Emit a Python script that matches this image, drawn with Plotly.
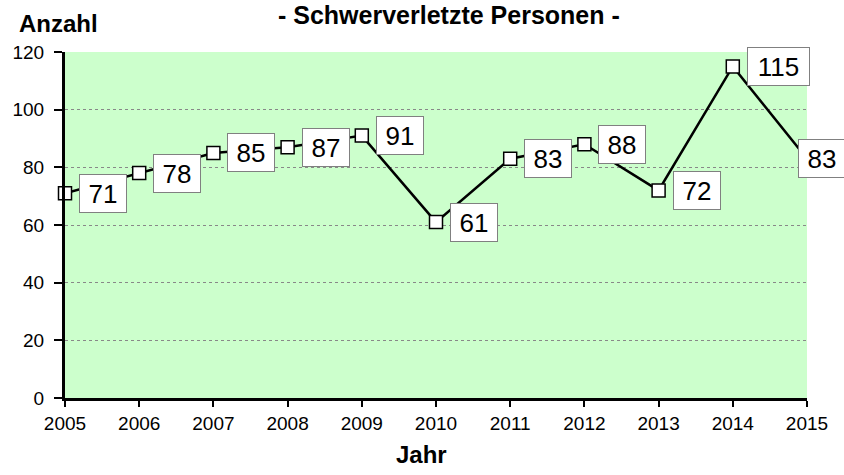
import plotly.graph_objects as go

# Schwerverletzte Personen pro Jahr
jahre = [2005, 2006, 2007, 2008, 2009, 2010, 2011, 2012, 2013, 2014, 2015]
anzahl = [71, 78, 85, 87, 91, 61, 83, 88, 72, 115, 83]
y_ticks = [0, 20, 40, 60, 80, 100, 120]

FONT = "Arial, Liberation Sans, sans-serif"

fig = go.Figure()
fig.add_trace(go.Scatter(
    x=jahre, y=anzahl, mode="lines+markers",
    line=dict(color="black", width=2.5),
    marker=dict(symbol="square", size=13, color="white",
                line=dict(color="black", width=1.5)),
    cliponaxis=False, showlegend=False, hoverinfo="x+y",
))

# value labels in white boxes to the right of each point
for i, (j, v) in enumerate(zip(jahre, anzahl)):
    txt = str(v)
    last = i == len(jahre) - 1
    fig.add_annotation(
        x=j, y=v, xref="x", yref="y", text=txt, showarrow=False,
        xanchor="left", yanchor="middle",
        xshift=-9 if last else 14,
        width=len(txt) * 15 + 16, height=37,
        font=dict(family=FONT, size=26, color="black"),
        bgcolor="white", bordercolor="#808080", borderwidth=1, borderpad=0,
    )

fig.add_annotation(x=0.518, y=1.152, xref="paper", yref="paper",
                   text="<b>- Schwerverletzte Personen -</b>", showarrow=False,
                   xanchor="center", yanchor="top",
                   font=dict(family=FONT, size=25, color="black"))
fig.add_annotation(x=-0.065, y=1.081, xref="paper", yref="paper",
                   text="<b>Anzahl</b>", showarrow=False,
                   xanchor="left", yanchor="middle",
                   font=dict(family=FONT, size=24, color="black"))
fig.add_annotation(x=0.48, y=-0.163, xref="paper", yref="paper",
                   text="<b>Jahr</b>", showarrow=False,
                   xanchor="center", yanchor="middle",
                   font=dict(family=FONT, size=24, color="black"))

fig.update_layout(
    width=844, height=475,
    margin=dict(l=62, r=37, t=52, b=77),
    paper_bgcolor="white", plot_bgcolor="#CCFFCC",
    font=dict(family=FONT, size=19, color="black"),
    xaxis=dict(range=[2005, 2015], tickmode="array", tickvals=jahre,
               ticktext=[str(j) for j in jahre],
               showgrid=False, zeroline=False,
               showline=True, linecolor="black", linewidth=3,
               ticks="outside", ticklen=6, tickwidth=2, tickcolor="black",
               tickfont=dict(family=FONT, size=19)),
    yaxis=dict(range=[0, 120], tickmode="array", tickvals=y_ticks,
               showgrid=True, gridcolor="#888888", gridwidth=1, griddash="dot",
               zeroline=False,
               showline=True, linecolor="black", linewidth=3,
               ticks="outside", ticklen=8, tickwidth=2, tickcolor="black",
               tickfont=dict(family=FONT, size=19), ticklabelstandoff=6),
)

fig.write_html("out.html")
